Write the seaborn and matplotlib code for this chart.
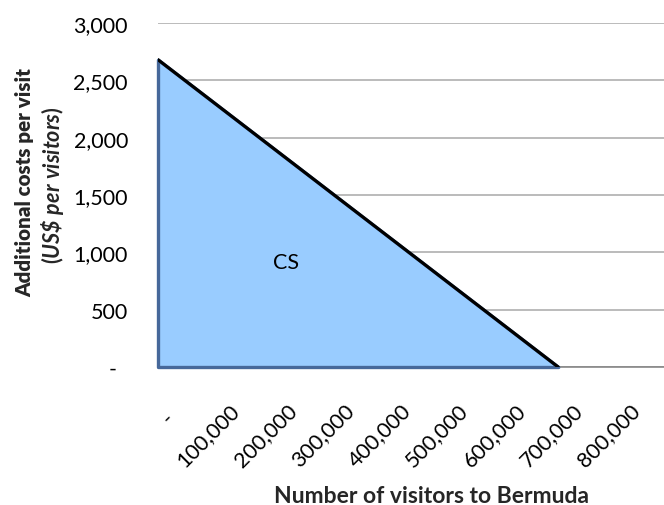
import matplotlib
matplotlib.use('Agg')
import matplotlib.pyplot as plt
import matplotlib.transforms as mtransforms
import seaborn as sns

# data
visitors = [0, 700000]
cost_per_visit = [2680, 0]

x_ticks = [0, 100000, 200000, 300000, 400000, 500000, 600000, 700000, 800000]
x_tick_labels = ["-  ", "100,000", "200,000", "300,000", "400,000",
                 "500,000", "600,000", "700,000", "800,000"]
y_ticks = [0, 500, 1000, 1500, 2000, 2500, 3000]
y_tick_labels = ["-  ", "500", "1,000", "1,500", "2,000", "2,500", "3,000"]

area_label = "CS"
area_label_pos = (224000, 916)

sns.set_theme(style="white")
plt.rcParams['font.family'] = ['Lato', 'DejaVu Sans']
plt.rcParams['mathtext.fontset'] = 'custom'
plt.rcParams['mathtext.rm'] = 'Lato'
plt.rcParams['mathtext.bf'] = 'Lato:bold'
plt.rcParams['mathtext.it'] = 'Lato:italic'
plt.rcParams['mathtext.bfit'] = 'Lato:bold:italic'

fig = plt.figure(figsize=(6.64, 5.06), dpi=100)
ax = fig.add_axes([158 / 664, 138 / 506, (664 - 158) / 664, 344 / 506])

# consumer surplus triangle
ax.fill_between(visitors, cost_per_visit, 0, facecolor='#99CCFF',
                edgecolor='#46689A', linewidth=2.4, zorder=2, clip_on=False)
sns.lineplot(x=visitors, y=cost_per_visit, color='black', linewidth=2.3,
             ax=ax, zorder=3)

ax.set_xlim(0, 885000)
ax.set_ylim(0, 3000)

ax.set_yticks(y_ticks, y_tick_labels)
ax.set_xticks(x_ticks, x_tick_labels)
ax.yaxis.grid(True, color='#BBBBBB', linewidth=1.4, zorder=1)
ax.set_axisbelow(True)

for side in ['top', 'right', 'left']:
    ax.spines[side].set_visible(False)
ax.spines['bottom'].set_color('#7F7F7F')
ax.spines['bottom'].set_linewidth(1.1)
ax.spines['bottom'].set_zorder(1)

ax.tick_params(axis='y', length=0, pad=21.6, labelsize=15.5, labelcolor='black')
ax.tick_params(axis='x', length=0, pad=28.8, labelsize=15.5, labelcolor='black')

shift = mtransforms.ScaledTranslation(0.21, 0, fig.dpi_scale_trans)
for lab in ax.get_xticklabels():
    lab.set_rotation(45)
    lab.set_ha('right')
    lab.set_va('center')
    lab.set_rotation_mode('anchor')
    lab.set_transform(lab.get_transform() + shift)

ax.text(area_label_pos[0], area_label_pos[1], area_label, ha='center',
        va='center', fontsize=15.5, color='black', zorder=4)

fig.text(432 / 664, 1 - 497 / 506, "Number of visitors to Bermuda",
         ha='center', va='center', fontsize=16.5, fontweight='bold')
fig.text(25 / 664, 1 - 183 / 506, "Additional costs per visit",
         ha='center', va='center', rotation=90, fontsize=14.8, fontweight='heavy')
fig.text(53 / 664, 1 - 185 / 506,
         r"$\mathbf{(}\mathbfit{US\$\ per\ visitors}\mathbf{)}$",
         ha='center', va='center', rotation=90, fontsize=15.5)

fig.savefig("out.png", dpi=100)
